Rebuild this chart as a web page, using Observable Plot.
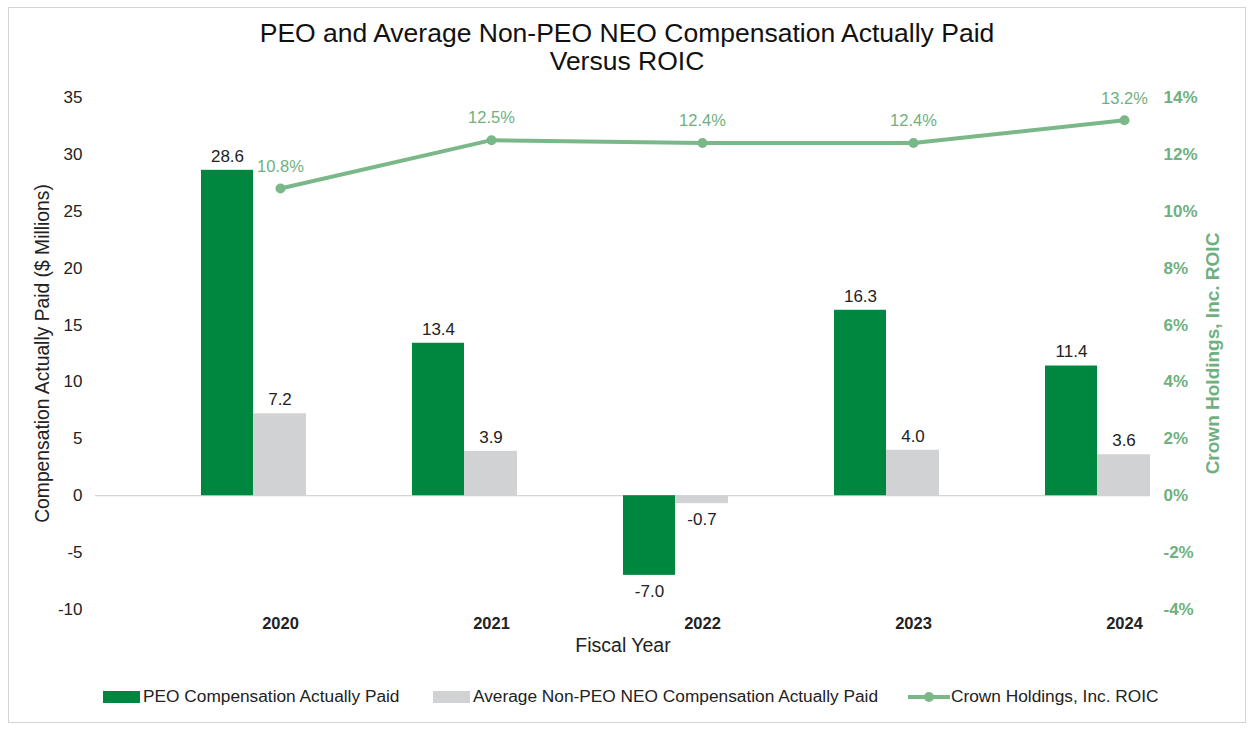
<!DOCTYPE html>
<html><head><meta charset="utf-8">
<script src="https://cdn.jsdelivr.net/npm/d3@7"></script>
<script src="https://cdn.jsdelivr.net/npm/@observablehq/plot@0.6"></script>
<style>
html,body{margin:0;padding:0;background:#fff;}
body{width:1251px;height:730px;position:relative;overflow:hidden;font-family:"Liberation Sans",Arial,sans-serif;}
#frame{position:absolute;left:8px;top:7px;width:1238px;height:716px;border:1px solid #d4d4d4;box-sizing:border-box;}
#title{position:absolute;left:8px;width:1238px;top:19px;text-align:center;font-size:26.5px;line-height:28px;color:#111;}
#chart{position:absolute;left:0;top:0;}
.leg{position:absolute;top:686px;font-size:17.3px;color:#222;display:flex;align-items:center;white-space:nowrap;}
.sw{display:inline-block;width:37px;height:12px;margin-right:3px;}
</style></head>
<body>
<div id="frame"></div>
<div id="chart"></div>
<div id="title">PEO and Average Non-PEO NEO Compensation Actually Paid<br>Versus ROIC</div>
<div class="leg" style="left:103px"><span class="sw" style="background:#00873f"></span>PEO Compensation Actually Paid</div>
<div class="leg" style="left:433px"><span class="sw" style="background:#d1d2d4"></span>Average Non-PEO NEO Compensation Actually Paid</div>
<div class="leg" style="left:908px"><svg width="42" height="14" style="margin-right:1px"><line x1="0" x2="42" y1="7" y2="7" stroke="#7ab889" stroke-width="4"/><circle cx="21" cy="7" r="5" fill="#7ab889"/></svg>Crown Holdings, Inc. ROIC</div>
<script>
const years = [2020, 2021, 2022, 2023, 2024];
const peoCAP = [28.6, 13.4, -7.0, 16.3, 11.4];
const neoCAP = [7.2, 3.9, -0.7, 4.0, 3.6];
const roic = [10.8, 12.5, 12.4, 12.4, 13.2];
const leftTicks = [-10, -5, 0, 5, 10, 15, 20, 25, 30, 35];
const rightTicks = [-4, -2, 0, 2, 4, 6, 8, 10, 12, 14];

const ratio = 35 / 14; // left units per percent point (secondary axis mapping)
const data = years.map((y, i) => ({year: String(y), peo: peoCAP[i], neo: neoCAP[i], roic: roic[i]}));

const green = "#00873f", gray = "#d1d2d4", lineGreen = "#7ab889", labelGreen = "#6fb07f";
const fs = 17;

const chart = Plot.plot({
  width: 1251, height: 730,
  marginTop: 97, marginBottom: 121, marginLeft: 95, marginRight: 101,
  style: {fontFamily: '"Liberation Sans", Arial, sans-serif', background: "transparent"},
  x: {type: "band", domain: years.map(String), padding: 0, axis: null},
  y: {domain: [-10, 35], axis: null},
  marks: [
    Plot.ruleY([0], {stroke: "#c9c9c9", strokeWidth: 1}),
    Plot.barY(data, {x: "year", y: "peo", fill: green, insetLeft: 106, insetRight: 53}),
    Plot.barY(data, {x: "year", y: "neo", fill: gray, insetLeft: 158, insetRight: 0}),
    Plot.text(data.filter(d => d.peo >= 0), {x: "year", y: "peo", text: d => d.peo.toFixed(1), dx: 26.5, dy: -14, fontSize: fs, fill: "#222"}),
    Plot.text(data.filter(d => d.peo < 0), {x: "year", y: "peo", text: d => d.peo.toFixed(1), dx: 26.5, dy: 16, fontSize: fs, fill: "#222"}),
    Plot.text(data.filter(d => d.neo >= 0), {x: "year", y: "neo", text: d => d.neo.toFixed(1), dx: 79, dy: -14, fontSize: fs, fill: "#222"}),
    Plot.text(data.filter(d => d.neo < 0), {x: "year", y: "neo", text: d => d.neo.toFixed(1), dx: 79, dy: 16, fontSize: fs, fill: "#222"}),
    Plot.line(data, {x: "year", y: d => d.roic * ratio, dx: 79.5, stroke: lineGreen, strokeWidth: 4}),
    Plot.dot(data, {x: "year", y: d => d.roic * ratio, dx: 79.5, r: 5, fill: lineGreen}),
    Plot.text(data, {x: "year", y: d => d.roic * ratio, text: d => d.roic.toFixed(1) + "%", dx: 79.5, dy: -22, fontSize: 16.5, fill: labelGreen}),
    Plot.axisY({ticks: leftTicks, tickFormat: d => String(d), tickSize: 0, tickPadding: 13, fontSize: fs, label: null, color: "#222"}),
    Plot.axisY({anchor: "right", ticks: rightTicks.map(v => v * ratio), tickFormat: v => String(Math.round(v / ratio)) + "%", tickSize: 0, tickPadding: 13, fontSize: fs, fontWeight: "bold", label: null, color: labelGreen}),
    Plot.text(data, {x: "year", text: "year", frameAnchor: "bottom", dx: 79.5, dy: 19, fontSize: 16.5, fontWeight: "bold", fill: "#222"}),
    Plot.text(["Fiscal Year"], {frameAnchor: "bottom", dy: 42, fontSize: 19.5, fill: "#222"}),
    Plot.text(["Compensation Actually Paid ($ Millions)"], {frameAnchor: "left", textAnchor: "middle", dx: -53, rotate: -90, fontSize: 19.3, fill: "#222"}),
    Plot.text(["Crown Holdings, Inc. ROIC"], {frameAnchor: "right", textAnchor: "middle", dx: 62, rotate: -90, fontSize: 19, fontWeight: "bold", fill: labelGreen})
  ]
});
document.getElementById("chart").appendChild(chart);
</script>
</body></html>
